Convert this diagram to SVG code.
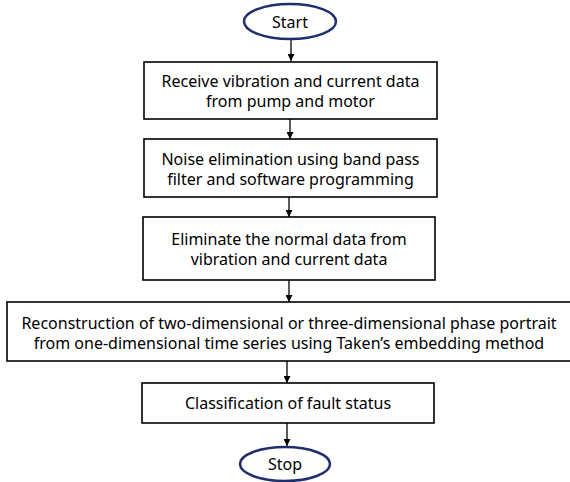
<svg xmlns="http://www.w3.org/2000/svg" width="570" height="482" viewBox="0 0 570 482">
  <style>
    .term { fill: #ffffff; stroke: #1f2f6e; stroke-width: 2.5; }
    .step { fill: #ffffff; stroke: #000000; stroke-width: 1.6; }
    .label { font-family: "Noto Sans", "Open Sans", "Liberation Sans", sans-serif; font-size: 16px; fill: #000000; text-anchor: middle; }
    .conn { stroke: #000000; stroke-width: 1.3; fill: none; marker-end: url(#arrow); }
  </style>
  <defs>
    <marker id="arrow" viewBox="0 0 10 10" refX="10" refY="5" markerWidth="7" markerHeight="7" markerUnits="userSpaceOnUse" orient="auto">
      <path d="M0,0 L10,5 L0,10 z" fill="#000000"/>
    </marker>
  </defs>
  <rect width="570" height="482" fill="#ffffff"/>

  <g id="connectors">
    <line class="conn" x1="291" y1="39" x2="291" y2="61"/>
    <line class="conn" x1="290" y1="119" x2="290" y2="139"/>
    <line class="conn" x1="289" y1="197" x2="289" y2="217"/>
    <line class="conn" x1="289" y1="280" x2="289" y2="302"/>
    <line class="conn" x1="287" y1="361" x2="287" y2="383"/>
    <line class="conn" x1="287" y1="423" x2="287" y2="446"/>
  </g>

  <g id="start">
    <ellipse class="term" cx="290" cy="21.5" rx="46" ry="17.5"/>
    <text class="label" x="290" y="28">Start</text>
  </g>

  <g id="receive">
    <rect class="step" x="144" y="62" width="293" height="57"/>
    <text class="label" x="290.5" y="87">Receive vibration and current data</text>
    <text class="label" x="290.5" y="107">from pump and motor</text>
  </g>

  <g id="noise">
    <rect class="step" x="144" y="139" width="293" height="58"/>
    <text class="label" x="290.5" y="165">Noise elimination using band pass</text>
    <text class="label" x="290.5" y="185">filter and software programming</text>
  </g>

  <g id="eliminate">
    <rect class="step" x="143" y="217" width="292" height="63"/>
    <text class="label" x="289" y="245">Eliminate the normal data from</text>
    <text class="label" x="289" y="265">vibration and current data</text>
  </g>

  <g id="reconstruct">
    <rect class="step" x="7" y="302" width="566" height="59"/>
    <text class="label" x="289" y="329">Reconstruction of two-dimensional or three-dimensional phase portrait</text>
    <text class="label" x="289" y="349">from one-dimensional time series using Taken’s embedding method</text>
  </g>

  <g id="classify">
    <rect class="step" x="142" y="383" width="292" height="40"/>
    <text class="label" x="288" y="409">Classification of fault status</text>
  </g>

  <g id="stop">
    <ellipse class="term" cx="285" cy="464" rx="45" ry="17"/>
    <text class="label" x="285" y="470">Stop</text>
  </g>
</svg>
